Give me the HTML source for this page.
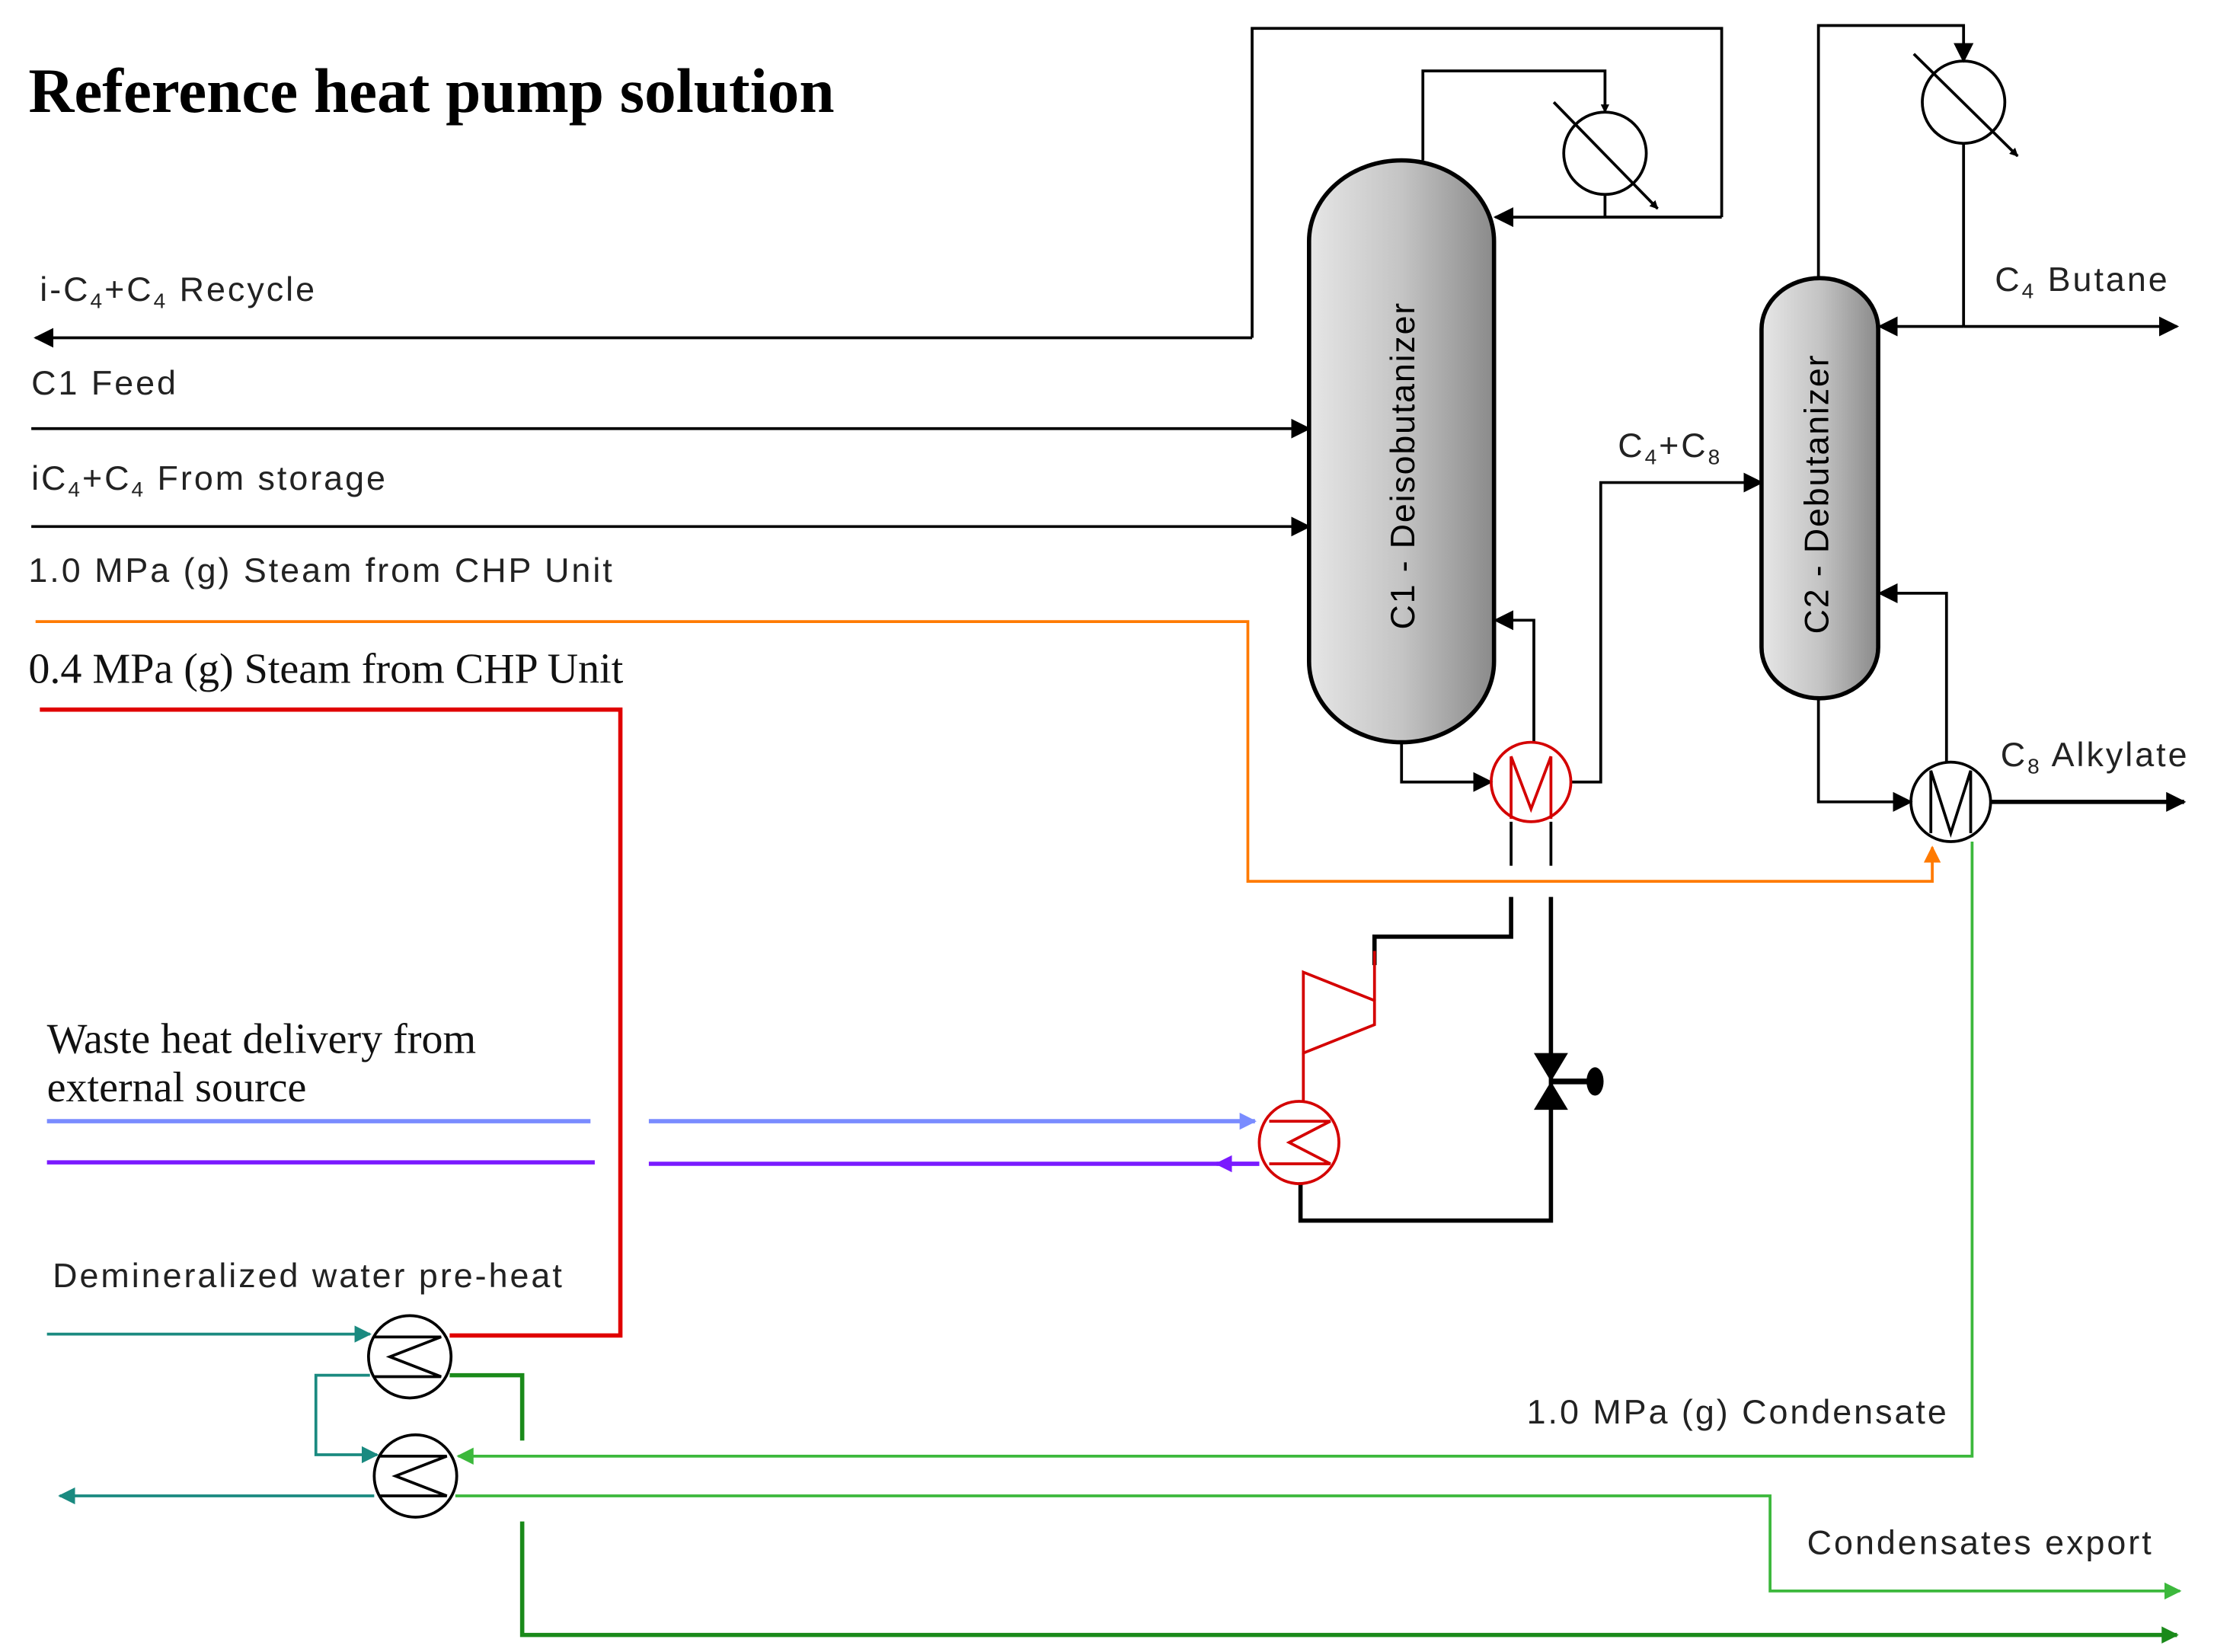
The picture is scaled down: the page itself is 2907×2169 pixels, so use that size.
<!DOCTYPE html>
<html><head><meta charset="utf-8"><style>html,body{margin:0;padding:0;background:#fff}svg{display:block}</style></head>
<body>
<svg width="2907" height="2169" viewBox="0 0 1556 1164" preserveAspectRatio="none" xmlns="http://www.w3.org/2000/svg" font-family="Liberation Sans, sans-serif">
<defs>
<linearGradient id="g" x1="0" x2="1" y1="0" y2="0"><stop offset="0" stop-color="#e6e6e6"/><stop offset="0.5" stop-color="#c4c4c4"/><stop offset="1" stop-color="#8a8a8a"/></linearGradient>
<marker id="a" viewBox="0 0 10 10" refX="9" refY="5" markerWidth="6" markerHeight="6" orient="auto-start-reverse" markerUnits="userSpaceOnUse"><path d="M0,0L10,5L0,10z" fill="#000"/></marker>
<marker id="ak" viewBox="0 0 10 10" refX="9" refY="5" markerWidth="14" markerHeight="14" orient="auto" markerUnits="userSpaceOnUse"><path d="M0,0L10,5L0,10z" fill="#000"/></marker>
<marker id="ao" viewBox="0 0 10 10" refX="9" refY="5" markerWidth="12" markerHeight="12" orient="auto" markerUnits="userSpaceOnUse"><path d="M0,0L10,5L0,10z" fill="#ff7a00"/></marker>
<marker id="at" viewBox="0 0 10 10" refX="9" refY="5" markerWidth="12" markerHeight="12" orient="auto" markerUnits="userSpaceOnUse"><path d="M0,0L10,5L0,10z" fill="#1a8a80"/></marker>
<marker id="ag" viewBox="0 0 10 10" refX="9" refY="5" markerWidth="12" markerHeight="12" orient="auto" markerUnits="userSpaceOnUse"><path d="M0,0L10,5L0,10z" fill="#3cb83c"/></marker>
<marker id="adg" viewBox="0 0 10 10" refX="9" refY="5" markerWidth="12" markerHeight="12" orient="auto" markerUnits="userSpaceOnUse"><path d="M0,0L10,5L0,10z" fill="#1a8a1a"/></marker>
<marker id="ab" viewBox="0 0 10 10" refX="9" refY="5" markerWidth="12" markerHeight="12" orient="auto" markerUnits="userSpaceOnUse"><path d="M0,0L10,5L0,10z" fill="#7a8cff"/></marker>
<marker id="ap" viewBox="0 0 10 10" refX="9" refY="5" markerWidth="12" markerHeight="12" orient="auto" markerUnits="userSpaceOnUse"><path d="M0,0L10,5L0,10z" fill="#7a1aff"/></marker>
</defs>

<text x="20" y="79" font-family="Liberation Serif, serif" font-weight="bold" font-size="44.5">Reference heat pump solution</text>

<path d="M920,170 A65,57 0 0 1 1050,170 L1050,466 A65,57 0 0 1 920,466 Z" fill="url(#g)" stroke="#000" stroke-width="3"/>
<text transform="translate(994,328) rotate(-90)" text-anchor="middle" font-size="24" letter-spacing="1">C1 - Deisobutanizer</text>
<path d="M1238,232 A41,36 0 0 1 1320,232 L1320,456 A41,36 0 0 1 1238,456 Z" fill="url(#g)" stroke="#000" stroke-width="3"/>
<text transform="translate(1285,348) rotate(-90)" text-anchor="middle" font-size="24" letter-spacing="1">C2 - Debutanizer</text>

<g fill="none" stroke="#000" stroke-width="2">
<circle cx="1128" cy="108" r="29"/>
<line x1="1092" y1="72" x2="1165" y2="147" marker-end="url(#a)"/>
<polyline points="1000,113 1000,50 1128,50 1128,79" marker-end="url(#a)"/>
<polyline points="1128,137 1128,153 1210,153"/>
<line x1="1210" y1="153" x2="1051" y2="153" marker-end="url(#ak)"/>
<polyline points="880,238 880,20 1210,20 1210,153"/>
<line x1="880" y1="238" x2="25" y2="238" marker-end="url(#ak)"/>
<line x1="22" y1="302" x2="920" y2="302" marker-end="url(#ak)"/>
<line x1="22" y1="371" x2="920" y2="371" marker-end="url(#ak)"/>
<polyline points="985,523 985,551 1048,551" marker-end="url(#ak)"/>
<polyline points="1104,551 1125,551 1125,340 1238,340" marker-end="url(#ak)"/>
<polyline points="1078,523 1078,437 1051,437" marker-end="url(#ak)"/>
<line x1="1062" y1="579" x2="1062" y2="610"/>
<line x1="1090" y1="579" x2="1090" y2="610"/>
<polyline points="1062,632 1062,660 966,660 966,680" stroke-width="3"/>
<polyline points="1090,632 1090,860 914,860 914,833" stroke-width="3"/>
<circle cx="1380" cy="72" r="29"/>
<line x1="1345" y1="38" x2="1418" y2="110" marker-end="url(#a)"/>
<polyline points="1278,196 1278,18 1380,18 1380,43" marker-end="url(#ak)"/>
<line x1="1380" y1="101" x2="1380" y2="230"/>
<line x1="1380" y1="230" x2="1321" y2="230" marker-end="url(#ak)"/>
<line x1="1380" y1="230" x2="1530" y2="230" marker-end="url(#ak)"/>
<circle cx="1371" cy="565" r="28"/>
<polyline points="1357,587 1357,543 1371,587 1385,543 1385,587"/>
<polyline points="1278,492 1278,565 1343,565" marker-end="url(#ak)"/>
<line x1="1399" y1="565" x2="1535" y2="565" stroke-width="3" marker-end="url(#ak)"/>
<polyline points="1368,537 1368,418 1321,418" marker-end="url(#ak)"/>
</g>

<g fill="none" stroke="#d40000" stroke-width="2">
<ellipse cx="1076" cy="551" rx="28" ry="28"/>
<polyline points="1062,577 1062,533 1076,570 1090,533 1090,577"/>
<polygon points="916,685 966,705 966,722 916,742"/>
<line x1="966" y1="670" x2="966" y2="705"/>
<line x1="916" y1="742" x2="916" y2="776"/>
<ellipse cx="913" cy="805" rx="28" ry="29"/>
<polyline points="892,790 935,790 906,805 935,820 892,820"/>
</g>

<path d="M1078,742 L1102,742 L1078,782 L1102,782 Z" fill="#000"/>
<line x1="1090" y1="762" x2="1118" y2="762" stroke="#000" stroke-width="4"/>
<ellipse cx="1121" cy="762" rx="6" ry="10" fill="#000"/>

<polyline points="25,438 877,438 877,621 1358,621 1358,597" fill="none" stroke="#ff7a00" stroke-width="2" marker-end="url(#ao)"/>
<polyline points="28,500 436,500 436,941 316,941" fill="none" stroke="#e00000" stroke-width="3"/>
<line x1="33" y1="790" x2="415" y2="790" stroke="#7a8cff" stroke-width="3"/>
<line x1="456" y1="790" x2="882" y2="790" stroke="#7a8cff" stroke-width="3" marker-end="url(#ab)"/>
<line x1="33" y1="819" x2="418" y2="819" stroke="#7a1aff" stroke-width="3"/>
<line x1="456" y1="820" x2="885" y2="820" stroke="#7a1aff" stroke-width="3"/>
<line x1="885" y1="820" x2="855" y2="820" stroke="#7a1aff" stroke-width="3" marker-end="url(#ap)"/>

<g fill="none" stroke="#000" stroke-width="2">
<circle cx="288" cy="956" r="29"/>
<polyline points="262,942 310,942 274,956 310,970 262,970"/>
<circle cx="292" cy="1040" r="29"/>
<polyline points="266,1026 314,1026 278,1040 314,1054 266,1054"/>
</g>
<line x1="33" y1="940" x2="260" y2="940" stroke="#1a8a80" stroke-width="2" marker-end="url(#at)"/>
<polyline points="260,969 222,969 222,1025 265,1025" fill="none" stroke="#1a8a80" stroke-width="2" marker-end="url(#at)"/>
<line x1="263" y1="1054" x2="42" y2="1054" stroke="#1a8a80" stroke-width="2" marker-end="url(#at)"/>
<polyline points="316,969 367,969 367,1015" fill="none" stroke="#1a8a1a" stroke-width="3"/>
<polyline points="367,1072 367,1152 1530,1152" fill="none" stroke="#1a8a1a" stroke-width="3" marker-end="url(#adg)"/>
<polyline points="1386,593 1386,1026 322,1026" fill="none" stroke="#3cb83c" stroke-width="2" marker-end="url(#ag)"/>
<polyline points="320,1054 1244,1054 1244,1121 1532,1121" fill="none" stroke="#3cb83c" stroke-width="2" marker-end="url(#ag)"/>

<g font-size="24" fill="#222" letter-spacing="1.6">
<text x="28" y="212">i-C<tspan font-size="15" dy="5">4</tspan><tspan dy="-5">+C</tspan><tspan font-size="15" dy="5">4</tspan><tspan dy="-5"> Recycle</tspan></text>
<text x="22" y="278">C1 Feed</text>
<text x="22" y="345">iC<tspan font-size="15" dy="5">4</tspan><tspan dy="-5">+C</tspan><tspan font-size="15" dy="5">4</tspan><tspan dy="-5"> From storage</tspan></text>
<text x="20" y="410">1.0 MPa (g)  Steam from CHP Unit</text>
<text x="1137" y="322">C<tspan font-size="15" dy="5">4</tspan><tspan dy="-5">+C</tspan><tspan font-size="15" dy="5">8</tspan></text>
<text x="1402" y="205">C<tspan font-size="15" dy="5">4</tspan><tspan dy="-5"> Butane</tspan></text>
<text x="1406" y="540">C<tspan font-size="15" dy="5">8</tspan><tspan dy="-5"> Alkylate</tspan></text>
<text x="37" y="907">Demineralized water pre-heat</text>
<text x="1073" y="1003">1.0 MPa (g)  Condensate</text>
<text x="1270" y="1095">Condensates export</text>
</g>
<g font-family="Liberation Serif, serif" font-size="30" fill="#111">
<text x="20" y="481">0.4 MPa (g) Steam from CHP Unit</text>
<text x="33" y="742">Waste heat delivery from</text>
<text x="33" y="776">external source</text>
</g>
</svg>
</body></html>
